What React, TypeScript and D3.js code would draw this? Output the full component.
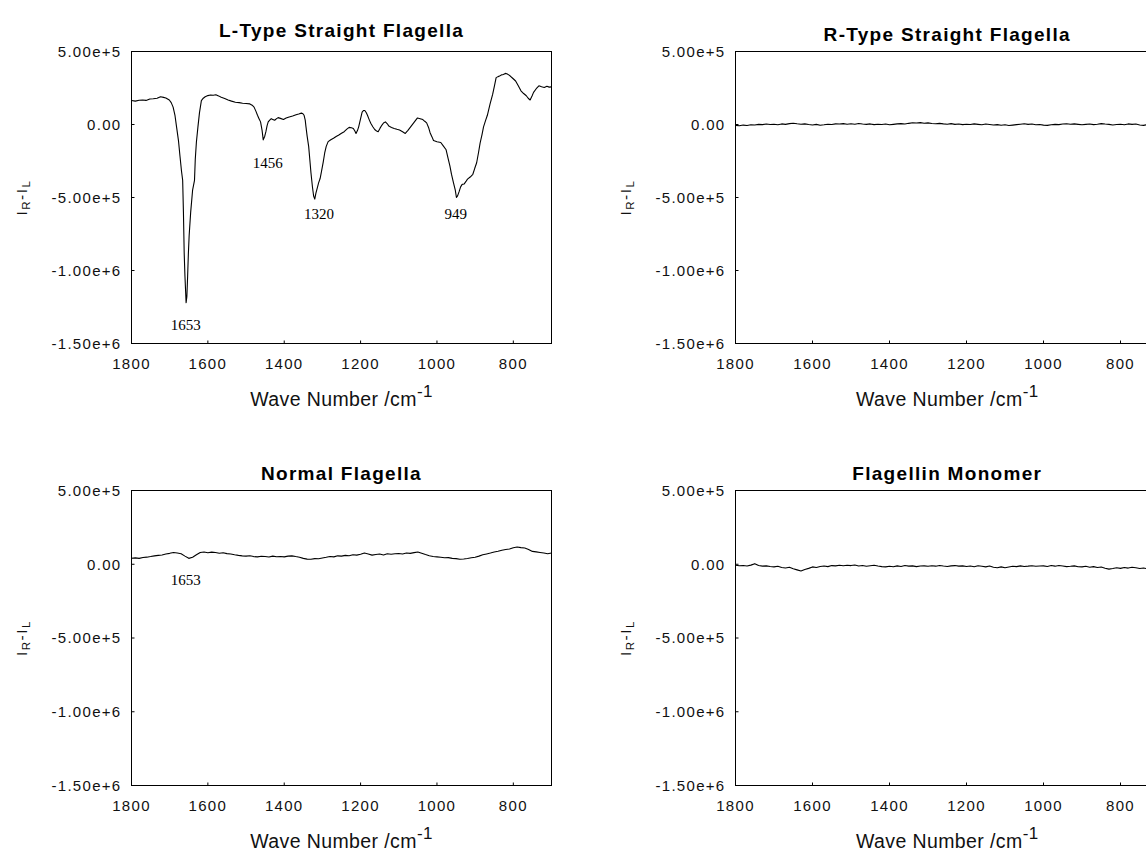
import React from 'react';
import * as d3 from 'd3';

const WIDTH = 1146;
const HEIGHT = 853;

// L-Type straight flagella spectrum (wave number, value in units of 1e3)
const lTypeWN = [
  1800, 1790, 1780, 1771, 1762, 1752, 1743, 1733, 1724, 1716, 1710, 1701, 1696, 1691, 1686, 1682, 1677, 1673, 1669, 1666,
  1664, 1662, 1660, 1657, 1655, 1653, 1651, 1649, 1645, 1640, 1635, 1633, 1630, 1626, 1622, 1617, 1612, 1607, 1600, 1593,
  1586, 1579, 1572, 1565, 1556, 1547, 1538, 1528, 1518, 1509, 1500, 1490, 1484, 1479, 1474, 1470, 1466, 1462, 1458, 1455,
  1451, 1448, 1445, 1442, 1438, 1434, 1430, 1425, 1420, 1416, 1410, 1402, 1395, 1387, 1378, 1369, 1362, 1355, 1351, 1348,
  1345, 1343, 1340, 1336, 1333, 1330, 1326, 1323, 1320, 1317, 1313, 1310, 1306, 1303, 1298, 1294, 1290, 1285, 1278, 1271,
  1264, 1257, 1250, 1243, 1236, 1230, 1224, 1219, 1215, 1212, 1208, 1205, 1200, 1196, 1192, 1189, 1185, 1182, 1177, 1173,
  1168, 1163, 1158, 1154, 1149, 1144, 1140, 1135, 1130, 1126, 1119, 1112, 1105, 1098, 1090, 1083, 1076, 1069, 1060, 1051,
  1044, 1037, 1032, 1027, 1022, 1018, 1013, 1009, 1000, 990, 983, 976, 971, 966, 962, 957, 952, 949, 946, 942,
  938, 934, 929, 924, 920, 913, 906, 901, 896, 891, 887, 882, 878, 873, 868, 861, 854, 849, 845, 840,
  836, 831, 826, 821, 817, 812, 808, 801, 794, 787, 780, 773, 766, 761, 756, 751, 747, 740, 733, 726,
  719, 712, 706, 700,
];
const lTypeVal = [
  164, 160, 166, 168, 165, 175, 176, 180, 190, 186, 182, 168, 150, 119, 60, -16, -110, -217, -320, -382,
  -600, -880, -1040, -1220, -1180, -1040, -880, -760, -600, -450, -382, -240, -120, -16, 80, 164, 180, 190, 198, 202,
  200, 204, 196, 186, 178, 168, 160, 152, 150, 146, 144, 141, 132, 119, 90, 63, 40, 18, -40, -105,
  -80, -49, -10, 18, 30, 40, 35, 29, 40, 47, 42, 34, 44, 52, 58, 67, 72, 78, 74, 63,
  30, -16, -80, -150, -240, -330, -430, -490, -511, -470, -430, -400, -370, -330, -260, -195, -150, -117, -104, -94,
  -82, -72, -60, -49, -32, -20, -22, -27, -45, -61, -40, -16, 40, 85, 96, 96, 80, 63, 30, 7,
  -15, -34, -45, -49, -25, -4, 10, 18, 5, -11, -20, -27, -33, -38, -50, -61, -40, -16, 15, 45,
  40, 34, 22, 11, -20, -56, -85, -110, -118, -123, -148, -173, -230, -285, -340, -397, -450, -500, -489, -460,
  -427, -410, -408, -390, -374, -360, -341, -300, -262, -190, -128, -70, -16, 25, 63, 140, 208, 270, 321, 328,
  332, 340, 343, 350, 348, 340, 332, 315, 298, 265, 231, 212, 197, 180, 168, 195, 220, 245, 265, 258,
  253, 262, 256, 258,
];

// Wave-number grid (1800 .. 700, every 10 cm-1) for the three flat spectra
const gridWN = d3.range(1800, 695, -10);

// values in units of 1e3
const rTypeVal = [
  -6, -9, -4, -7, -2, -3, 1, -1, 3, 0,
  2, -2, 4, 1, 6, 9, 5, 2, 4, 0,
  -3, 1, -5, -2, 2, 0, 4, 3, 6, 2,
  5, 2, 7, 3, 1, 4, -1, 2, 0, 3,
  -2, 1, 4, 6, 3, 8, 12, 10, 13, 9,
  11, 7, 5, 8, 4, 2, 6, 1, 3, -1,
  2, 0, 4, 1, -2, 3, 0, -3, -1, -5,
  -2, -7, -4, -1, 2, 5, 1, 3, -2, 0,
  -4, -6, -2, 1, -1, 3, 5, 2, 4, 1,
  -2, 1, 3, -1, 2, 6, 3, 1, -3, 0,
  2, -2, 4, 1, 3, -3, -6, -1, 2, 5,
  3,
];

const normalVal = [
  41, 43, 40, 46, 48, 52, 57, 60, 63, 69,
  74, 80, 76, 71, 55, 40, 47, 64, 80, 83,
  78, 82, 80, 75, 78, 72, 69, 64, 60, 57,
  55, 58, 52, 50, 54, 53, 49, 55, 51, 53,
  50, 55, 57, 52, 48, 40, 35, 34, 38, 37,
  42, 47, 53, 50, 57, 55, 60, 58, 64, 62,
  68, 76, 70, 62, 66, 69, 63, 71, 68, 71,
  73, 70, 76, 74, 79, 83, 75, 66, 58, 53,
  50, 47, 44, 45, 40, 38, 34, 36, 39, 44,
  48, 55, 64, 70, 76, 83, 88, 95, 100, 103,
  112, 117, 113, 110, 100, 87, 84, 80, 76, 71,
  76,
];

const monomerVal = [
  -7, -10, -8, -12, -6, 4, -9, -13, -11, -15,
  -18, -14, -22, -25, -20, -30, -38, -46, -35, -28,
  -18, -22, -15, -12, -16, -9, -11, -7, -10, -7,
  -9, -5, -12, -8, -14, -10, -7, -12, -16, -18,
  -14, -17, -11, -15, -9, -13, -11, -16, -12, -11,
  -14, -10, -13, -8, -12, -15, -11, -9, -13, -11,
  -15, -12, -17, -10, -14, -18, -12, -20, -24, -18,
  -24, -19, -14, -16, -11, -15, -13, -10, -14, -12,
  -11, -15, -9, -13, -8, -12, -16, -14, -11, -17,
  -18, -14, -20, -16, -22, -19, -27, -33, -29, -24,
  -28, -22, -26, -20, -24, -29, -25, -31, -27, -24,
  -28,
];

const xTicks = [1800, 1600, 1400, 1200, 1000, 800];
const yTicks = [5e5, 0, -5e5, -1e6, -1.5e6];
const yTickLabels = ['5.00e+5', '0.00', '-5.00e+5', '-1.00e+6', '-1.50e+6'];

const titles = ['L-Type Straight Flagella', 'R-Type Straight Flagella', 'Normal Flagella', 'Flagellin Monomer'];

// peak annotations: label, wave number, value (label baseline)
const lTypeNotes = [
  { label: '1653', wn: 1658, v: -1.4075e6 },
  { label: '1456', wn: 1443, v: -2.98e5 },
  { label: '1320', wn: 1309, v: -6.47e5 },
  { label: '949', wn: 951, v: -6.47e5 },
];
const normalNotes = [{ label: '1653', wn: 1658, v: -1.44e5 }];

type Note = { label: string; wn: number; v: number };
type PanelDef = {
  title: string;
  wn: number[];
  val: number[];
  notes: Note[];
  x0: number;
  x1: number;
  y0: number;
  y1: number;
  titleGap: number;
};

const LEFT = { x0: 131.5, x1: 551.5 };
const RIGHT = { x0: 735.5, x1: 1159 };
const TOP = { y0: 51.5, y1: 343.5 };
const BOTTOM = { y0: 490.5, y1: 785.5 };

const panels: PanelDef[] = [
  { title: titles[0], wn: lTypeWN, val: lTypeVal, notes: lTypeNotes, ...LEFT, ...TOP, titleGap: 15 },
  { title: titles[1], wn: gridWN, val: rTypeVal, notes: [], ...RIGHT, ...TOP, titleGap: 11 },
  { title: titles[2], wn: gridWN, val: normalVal, notes: normalNotes, ...LEFT, ...BOTTOM, titleGap: 11 },
  { title: titles[3], wn: gridWN, val: monomerVal, notes: [], ...RIGHT, ...BOTTOM, titleGap: 11 },
];

const SANS = "'Liberation Sans', Arial, sans-serif";
const SERIF = "'Liberation Serif', 'Times New Roman', serif";

function Panel({ p }: { p: PanelDef }) {
  const x = d3.scaleLinear().domain([1800, 700]).range([p.x0, p.x1]);
  const y = d3.scaleLinear().domain([5e5, -1.5e6]).range([p.y0, p.y1]);
  const line = d3
    .line<[number, number]>()
    .x((d) => x(d[0]))
    .y((d) => y(d[1]));
  const pts: [number, number][] = p.wn.map((w, i) => [w, p.val[i] * 1000]);
  const cx = (p.x0 + p.x1) / 2;
  const cy = (p.y0 + p.y1) / 2;
  const lx = p.x0 - 110;
  return (
    <g>
      <text
        x={cx}
        y={p.y0 - p.titleGap}
        textAnchor="middle"
        fontFamily={SANS}
        fontWeight="bold"
        fontSize={19}
        letterSpacing={1.3}
        fill="#000"
      >
        {p.title}
      </text>
      <path d={line(pts) || ''} fill="none" stroke="#000" strokeWidth={1.1} strokeLinejoin="round" />
      <rect x={p.x0} y={p.y0} width={p.x1 - p.x0} height={p.y1 - p.y0} fill="none" stroke="#000" strokeWidth={1} />
      {xTicks.map((t) => (
        <g key={'x' + t}>
          <line x1={x(t)} x2={x(t)} y1={p.y1} y2={p.y1 - 3} stroke="#000" strokeWidth={1} />
          <text
            x={x(t)}
            y={p.y1 + 25}
            textAnchor="middle"
            fontFamily={SANS}
            fontSize={15}
            letterSpacing={1.3}
            fill="#111"
          >
            {t}
          </text>
        </g>
      ))}
      {yTicks.map((t, i) => (
        <g key={'y' + t}>
          <line x1={p.x0} x2={p.x0 + 3} y1={y(t)} y2={y(t)} stroke="#000" strokeWidth={1} />
          <text
            x={p.x0 - 10}
            y={y(t)}
            dy="0.36em"
            textAnchor="end"
            fontFamily={SANS}
            fontSize={15}
            letterSpacing={1.3}
            fill="#111"
          >
            {yTickLabels[i]}
          </text>
        </g>
      ))}
      {p.notes.map((n) => (
        <text
          key={n.label + n.wn}
          x={x(n.wn)}
          y={y(n.v)}
          textAnchor="middle"
          fontFamily={SERIF}
          fontSize={15}
          fill="#000"
        >
          {n.label}
        </text>
      ))}
      <text
        x={cx}
        y={p.y1 + 62}
        textAnchor="middle"
        fontFamily={SANS}
        fontSize={19.5}
        letterSpacing={0.4}
        fill="#111"
      >
        Wave Number /cm
        <tspan fontSize={17} dy={-9}>
          -1
        </tspan>
      </text>
      <text
        transform={`translate(${lx},${cy}) rotate(-90)`}
        textAnchor="middle"
        fontFamily={SANS}
        fontSize={15.5}
        letterSpacing={1.5}
        fill="#111"
        dy="0.35em"
      >
        I<tspan fontSize={11.5} dy={3.5}>R</tspan>
        <tspan dy={-3.5}>-I</tspan>
        <tspan fontSize={11.5} dy={3.5}>L</tspan>
      </text>
    </g>
  );
}

export default function App() {
  return (
    <svg
      width={WIDTH}
      height={HEIGHT}
      viewBox={`0 0 ${WIDTH} ${HEIGHT}`}
      style={{ position: 'absolute', left: 0, top: 0, display: 'block', background: '#fff' }}
    >
      <rect x={0} y={0} width={WIDTH} height={HEIGHT} fill="#fff" />
      {panels.map((p, i) => (
        <Panel key={i} p={p} />
      ))}
    </svg>
  );
}
